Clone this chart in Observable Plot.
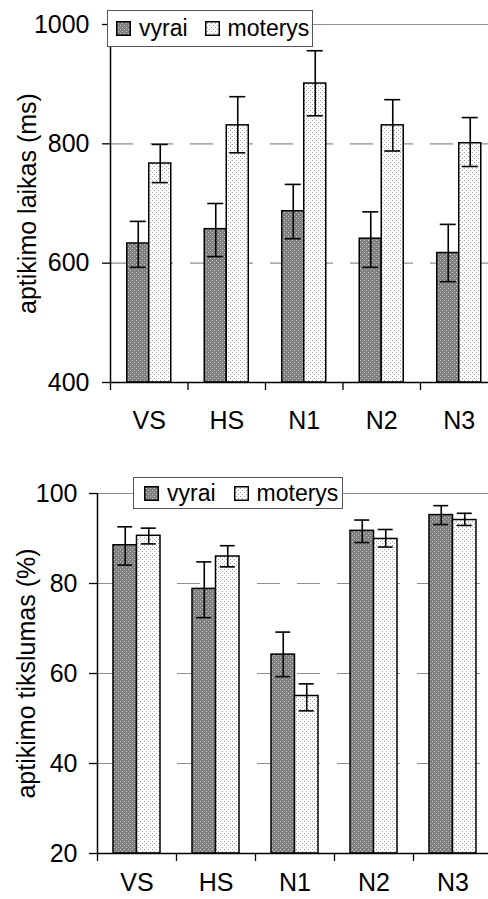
<!DOCTYPE html>
<html>
<head>
<meta charset="utf-8">
<script src="https://cdn.jsdelivr.net/npm/d3@7"></script>
<script src="https://cdn.jsdelivr.net/npm/@observablehq/plot@0.6"></script>
<style>
  html, body { margin: 0; padding: 0; background: #fff; }
  #wrap { position: relative; width: 488px; height: 899px; overflow: hidden; font-family: "Liberation Sans", Arial, sans-serif; }
  #wrap svg.plot { position: absolute; left: 0; }
  .legend { position: absolute; background: #fff; border: 1px solid #555; box-sizing: border-box;
            display: flex; align-items: center; font-size: 23px; color: #000; white-space: nowrap; }
  .legend svg { display: block; flex: none; }
</style>
</head>
<body>
<svg width="0" height="0" style="position:absolute">
  <defs>
    <pattern id="patMen" width="4" height="4" patternUnits="userSpaceOnUse">
      <rect width="4" height="4" fill="#808080"/>
      <rect x="0" y="0" width="1" height="1" fill="#c8c8c8"/>
      <rect x="2" y="2" width="1" height="1" fill="#c8c8c8"/>
    </pattern>
    <pattern id="patWomen" width="4" height="4" patternUnits="userSpaceOnUse">
      <rect width="4" height="4" fill="#ffffff"/>
      <rect x="0" y="0" width="1" height="1" fill="#a0a0a0"/>
      <rect x="2" y="2" width="1" height="1" fill="#a0a0a0"/>
    </pattern>
  </defs>
</svg>
<div id="wrap"></div>
<script>
// ---- data ----
const categories = ["VS", "HS", "N1", "N2", "N3"];
const seriesNames = ["vyrai", "moterys"];

// reaction time (ms)
const timeMen      = [633, 657, 687, 641, 617];
const timeMenLo    = [593, 611, 641, 593, 569];
const timeMenHi    = [670, 700, 732, 686, 665];
const timeWomen    = [767, 831, 901, 831, 801];
const timeWomenLo  = [735, 785, 847, 788, 762];
const timeWomenHi  = [799, 879, 956, 874, 844];
const timeTicks    = [400, 600, 800, 1000];

// accuracy (%)
const accMen       = [88.5, 78.8, 64.2, 91.7, 95.2];
const accMenLo     = [84.1, 72.4, 59.3, 89.1, 93.1];
const accMenHi     = [92.6, 84.8, 69.2, 94.1, 97.3];
const accWomen     = [90.6, 86.0, 55.0, 89.9, 94.1];
const accWomenLo   = [88.8, 83.7, 51.7, 88.1, 92.9];
const accWomenHi   = [92.3, 88.4, 57.7, 92.0, 95.6];
const accTicks     = [20, 40, 60, 80, 100];

const labelTime = "aptikimo laikas (ms)";
const labelAcc  = "aptikimo tikslumas (%)";

function rowsFor(series, v, lo, hi) {
  return categories.map((c, i) => ({cat: c, series, v: v[i], lo: lo[i], hi: hi[i]}));
}

function makeChart(o) {
  const men = rowsFor(seriesNames[0], o.men, o.menLo, o.menHi);
  const women = rowsFor(seriesNames[1], o.women, o.womenLo, o.womenHi);
  const y0 = d3.min(o.ticks), y1 = d3.max(o.ticks);
  const step = o.step;
  const p = 1 - o.bw / step;
  const bar = o.bw / 2;
  const capL = bar / 2 - o.cap / 2;
  const capR = bar * 1.5 - o.cap / 2;
  const svg = Plot.plot({
    width: 488,
    height: o.height,
    marginTop: o.marginTop,
    marginBottom: o.marginBottom,
    marginLeft: o.left,
    marginRight: 0,
    style: {fontFamily: "'Liberation Sans', Arial, sans-serif", fontSize: "25px", color: "#000", background: "transparent", overflow: "hidden"},
    x: {type: "band", domain: categories, range: [o.left, o.left + 5 * step], paddingInner: p, paddingOuter: p / 2, round: false, label: null},
    y: {domain: [y0, y1], label: null},
    marks: [
      Plot.ruleY(o.ticks.filter(t => t !== y0 && t !== y1), {stroke: "#8f8f8f", strokeWidth: 1.2, strokeDasharray: "23,17"}),
      Plot.ruleY([y1], {stroke: "#8f8f8f", strokeWidth: 1.2}),
      Plot.barY(men, {x: "cat", y1: () => y0, y2: "v", fill: "url(#patMen)", stroke: "#000", strokeWidth: 1.5, insetRight: bar}),
      Plot.barY(women, {x: "cat", y1: () => y0, y2: "v", fill: "url(#patWomen)", stroke: "#000", strokeWidth: 1.5, insetLeft: bar}),
      Plot.ruleX(men, {x: "cat", y1: "lo", y2: "hi", dx: -bar / 2, stroke: "#000", strokeWidth: 1.6}),
      Plot.ruleX(women, {x: "cat", y1: "lo", y2: "hi", dx: bar / 2, stroke: "#000", strokeWidth: 1.6}),
      Plot.tickY(men, {x: "cat", y: "lo", insetLeft: capL, insetRight: capR, stroke: "#000", strokeWidth: 1.6}),
      Plot.tickY(men, {x: "cat", y: "hi", insetLeft: capL, insetRight: capR, stroke: "#000", strokeWidth: 1.6}),
      Plot.tickY(women, {x: "cat", y: "lo", insetLeft: capR, insetRight: capL, stroke: "#000", strokeWidth: 1.6}),
      Plot.tickY(women, {x: "cat", y: "hi", insetLeft: capR, insetRight: capL, stroke: "#000", strokeWidth: 1.6}),
      Plot.ruleY([y0], {stroke: "#000", strokeWidth: 1.5}),
      Plot.ruleX([categories[0]], {x: d => d, y1: () => y0, y2: () => y1, dx: -step / 2, stroke: "#000", strokeWidth: 1.5}),
      Plot.axisY({ticks: o.ticks, tickSize: 8, tickPadding: o.yPad, tickFormat: d => String(d), label: null, strokeWidth: 1.3}),
      Plot.axisX({tickSize: 0, tickPadding: o.xPad, label: null}),
      Plot.axisX({tickSize: 8, tickFormat: () => "", dx: -step / 2, label: null, strokeWidth: 1.3}),
      Plot.text([o.label], {text: d => d, frameAnchor: "left", rotate: -90, textAnchor: "middle", dx: o.labelX - o.left, fontSize: 25})
    ]
  });
  svg.classList.add("plot");
  svg.style.top = o.top + "px";
  return svg;
}

function makeLegend(o) {
  const div = document.createElement("div");
  div.className = "legend";
  Object.assign(div.style, {left: o.x + "px", top: o.y + "px", width: o.w + "px", height: o.h + "px", paddingLeft: o.pad + "px"});
  const fills = ["url(#patMen)", "url(#patWomen)"];
  seriesNames.forEach((name, i) => {
    const sw = document.createElementNS("http://www.w3.org/2000/svg", "svg");
    sw.setAttribute("width", 15); sw.setAttribute("height", 15);
    sw.innerHTML = `<rect x="0.75" y="0.75" width="13.5" height="13.5" fill="${fills[i]}" stroke="#000" stroke-width="1.5"/>`;
    sw.style.marginLeft = (i === 0 ? 0 : o.gap) + "px";
    sw.style.marginRight = o.textGap + "px";
    const span = document.createElement("span");
    span.textContent = name;
    div.appendChild(sw);
    div.appendChild(span);
  });
  return div;
}

const wrap = document.getElementById("wrap");
wrap.appendChild(makeChart({
  men: timeMen, menLo: timeMenLo, menHi: timeMenHi,
  women: timeWomen, womenLo: timeWomenLo, womenHi: timeWomenHi,
  ticks: timeTicks, label: labelTime,
  top: 0, height: 445, marginTop: 24, marginBottom: 63, left: 110,
  step: 77.5, bw: 44, cap: 16, yPad: 13, xPad: 29, labelX: 27
}));
wrap.appendChild(makeChart({
  men: accMen, menLo: accMenLo, menHi: accMenHi,
  women: accWomen, womenLo: accWomenLo, womenHi: accWomenHi,
  ticks: accTicks, label: labelAcc,
  top: 445, height: 454, marginTop: 48, marginBottom: 46, left: 97,
  step: 79, bw: 47, cap: 15, yPad: 12, xPad: 20, labelX: 26
}));
wrap.appendChild(makeLegend({x: 107, y: 10, w: 206, h: 37, pad: 8, gap: 17, textGap: 8}));
wrap.appendChild(makeLegend({x: 133, y: 477, w: 210, h: 32, pad: 10, gap: 18, textGap: 8}));
</script>
</body>
</html>
